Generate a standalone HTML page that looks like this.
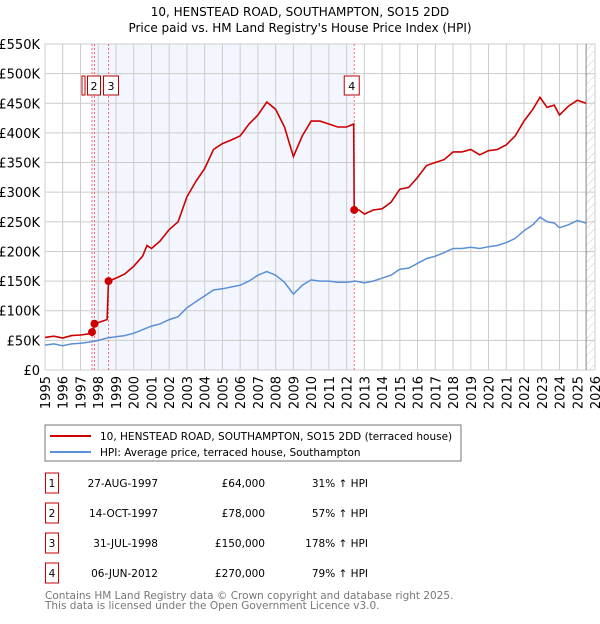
<!DOCTYPE html>
<html><head><meta charset="utf-8"><style>
body{margin:0;background:#fff;font-family:"DejaVu Sans","Liberation Sans",sans-serif;}
svg text{font-family:"DejaVu Sans","Liberation Sans",sans-serif;}
</style></head><body>
<svg id="chart" width="600" height="620" xmlns="http://www.w3.org/2000/svg">
<defs><pattern id="hatch" width="6" height="6" patternUnits="userSpaceOnUse" patternTransform="rotate(45)"><line x1="0" y1="0" x2="0" y2="6" stroke="#ccc" stroke-width="1"/></pattern></defs>
<text x="300" y="16" text-anchor="middle" font-size="12">10, HENSTEAD ROAD, SOUTHAMPTON, SO15 2DD</text>
<text x="300" y="32" text-anchor="middle" font-size="12">Price paid vs. HM Land Registry's House Price Index (HPI)</text>
<g id="plot"></g>
<rect x="45" y="425" width="416" height="36" fill="#fff" stroke="#777"/>
<line x1="50" y1="436" x2="91" y2="436" stroke="#cc0000" stroke-width="2"/>
<text x="100" y="440" font-size="10.5">10, HENSTEAD ROAD, SOUTHAMPTON, SO15 2DD (terraced house)</text>
<line x1="50" y1="452" x2="91" y2="452" stroke="#5b8fd6" stroke-width="2"/>
<text x="100" y="456" font-size="10.5">HPI: Average price, terraced house, Southampton</text>
<g id="table" font-size="10.5"></g>
<text x="45" y="599" font-size="10.5" fill="#777">Contains HM Land Registry data © Crown copyright and database right 2025.</text>
<text x="45" y="609" font-size="10.5" fill="#777">This data is licensed under the Open Government Licence v3.0.</text>
</svg>
<script>
const hpiYears=[1995,1995.5,1996,1996.5,1997,1997.5,1998,1998.5,1999,1999.5,2000,2000.5,2001,2001.5,2002,2002.5,2003,2003.5,2004,2004.5,2005,2005.5,2006,2006.5,2007,2007.5,2008,2008.5,2009,2009.5,2010,2010.5,2011,2011.5,2012,2012.5,2013,2013.5,2014,2014.5,2015,2015.5,2016,2016.5,2017,2017.5,2018,2018.5,2019,2019.5,2020,2020.5,2021,2021.5,2022,2022.5,2022.9,2023.3,2023.7,2024,2024.5,2025,2025.5];
const hpiValues=[42,44,41,44,45,47,50,54,56,58,62,68,74,78,85,90,105,115,125,135,137,140,143,150,160,166,160,148,128,143,152,150,150,148,148,150,147,150,155,160,170,172,180,188,192,198,205,205,207,205,208,210,215,222,235,245,258,250,248,240,245,252,248];
const priceYears=[1995,1995.5,1996,1996.5,1997,1997.5,1997.65,1997.79,1998,1998.5,1998.58,1999,1999.5,2000,2000.5,2000.75,2001,2001.5,2002,2002.5,2003,2003.5,2004,2004.5,2005,2005.5,2006,2006.5,2007,2007.5,2008,2008.5,2009,2009.5,2010,2010.5,2011,2011.5,2012,2012.4,2012.43,2012.7,2013,2013.5,2014,2014.5,2015,2015.5,2016,2016.5,2017,2017.5,2018,2018.5,2019,2019.5,2020,2020.5,2021,2021.5,2022,2022.5,2022.9,2023.3,2023.7,2024,2024.5,2025,2025.5];
const priceValues=[55,57,54,58,59,61,64,78,80,85,150,155,162,175,192,210,205,218,237,250,292,318,340,372,382,388,395,415,430,452,440,410,360,395,420,420,415,410,410,415,270,270,263,270,272,283,305,308,325,345,350,355,368,368,372,363,370,372,380,395,420,440,460,443,447,430,445,455,450];
const saleIds=["1","2","3","4"];
const saleYears=[1997.65,1997.79,1998.58,2012.43];
const saleValues=[64,78,150,270];
const saleDates=["27-AUG-1997","14-OCT-1997","31-JUL-1998","06-JUN-2012"];
const salePrices=["£64,000","£78,000","£150,000","£270,000"];
const saleHpi=["31% ↑ HPI","57% ↑ HPI","178% ↑ HPI","79% ↑ HPI"];
const yTicks=[0,50,100,150,200,250,300,350,400,450,500,550];
const xTicks=[1995,1996,1997,1998,1999,2000,2001,2002,2003,2004,2005,2006,2007,2008,2009,2010,2011,2012,2013,2014,2015,2016,2017,2018,2019,2020,2021,2022,2023,2024,2025,2026];
const X0=45,X1=595,Y0=370,Y1=44;
const xs=y=>X0+(y-1995)/31*(X1-X0);
const ys=v=>Y0-v/550*(Y0-Y1);
const NS="http://www.w3.org/2000/svg";
const plot=document.getElementById('plot');
function mk(tag,attrs,parent){const e=document.createElementNS(NS,tag);for(const k in attrs)e.setAttribute(k,attrs[k]);(parent||plot).appendChild(e);return e;}
let e;
e=mk('rect',{x:X0,y:Y1,width:X1-X0,height:Y0-Y1,fill:'#fff'});


e=mk('rect',{x:xs(saleYears[0]),y:Y1,width:xs(saleYears[3])-xs(saleYears[0]),height:Y0-Y1,fill:'#f3f6fe'});


e=mk('rect',{x:xs(2025.5),y:Y1,width:X1-xs(2025.5),height:Y0-Y1,fill:'url(#hatch)'});


yTicks.forEach(t=>{
 e=mk('line',{x1:X0,x2:X1,y1:ys(t),y2:ys(t),stroke:'#ccc'});
 
 
 e=mk('text',{x:40,y:ys(t)+5,'text-anchor':'end','font-size':13});
 e.textContent=t===0?'£0':'£'+t+'K';
 
 
});
xTicks.forEach(t=>{
 e=mk('line',{x1:xs(t),x2:xs(t),y1:Y1,y2:Y0,stroke:'#ccc'});
 
 
 e=mk('text',{x:0,y:0,'text-anchor':'end','font-size':13,transform:`translate(${xs(t)+5},376) rotate(-90)`});
 e.textContent=t;
 
 
});
e=mk('line',{x1:xs(2025.5),x2:xs(2025.5),y1:Y1,y2:Y0,stroke:'#888'});


saleYears.forEach((y,i)=>{
 e=mk('line',{x1:xs(y),x2:xs(y),y1:Y1,y2:Y0,stroke:'#f07070','stroke-dasharray':'2,2'});
 
 
});
saleIds.forEach((id,i)=>{
 if(i===0)return;
 const g=mk('g',{});
 
 
 mk('rect',{x:i===3?xs(saleYears[i])-10:(i===1?xs(saleYears[i])-7:xs(saleYears[i])-5),y:76,width:i===1?13:15,height:19,fill:'#fff',stroke:'#b00'},g);
 const t=mk('text',{x:i===3?xs(saleYears[i])-2.5:(i===1?xs(saleYears[i])-0.5:xs(saleYears[i])+2.5),y:90,'text-anchor':'middle','font-size':11},g);
 t.textContent=id;
});
e=mk('rect',{x:82,y:76,width:3,height:19,fill:'#fff',stroke:'#b00'});


function pathFrom(xa,va){return xa.map((y,i)=>(i?'L':'M')+xs(y).toFixed(1)+','+ys(va[i]).toFixed(1)).join(' ');}
e=mk('path',{d:pathFrom(hpiYears,hpiValues),fill:'none',stroke:'#5b8fd6','stroke-width':1.5});


e=mk('path',{d:pathFrom(priceYears,priceValues),fill:'none',stroke:'#cc0000','stroke-width':1.6});


saleYears.forEach((y,i)=>{
 e=mk('circle',{cx:xs(y),cy:ys(saleValues[i]),r:4,fill:'#cc0000'});
 
 
});
const tb=document.getElementById('table');
const rowY=[483,513,543,573];
saleIds.forEach((id,i)=>{
 const g=mk('g',{},tb);
 
 
 mk('rect',{x:45.5,y:rowY[i]-10,width:13,height:20,fill:'#fff',stroke:'#cc0000'},g);
 let t=mk('text',{x:52,y:rowY[i]+4,'text-anchor':'middle'},g);t.textContent=id;
 t=mk('text',{x:158,y:rowY[i]+4,'text-anchor':'end'},g);t.textContent=saleDates[i];
 t=mk('text',{x:265,y:rowY[i]+4,'text-anchor':'end'},g);t.textContent=salePrices[i];
 t=mk('text',{x:368,y:rowY[i]+4,'text-anchor':'end'},g);t.textContent=saleHpi[i];
});
</script>
</body></html>
